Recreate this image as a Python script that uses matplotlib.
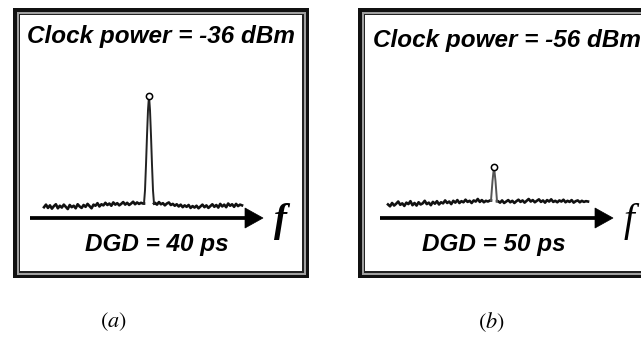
import numpy as np
import matplotlib
matplotlib.use("Agg")
import matplotlib.pyplot as plt
from matplotlib.patches import Rectangle, Polygon

W, H = 641, 349
DPI = 100

# ---- data -------------------------------------------------------------
panel_labels = ["(a)", "(b)"]
clock_power_dbm = [-36, -56]
dgd_ps = [40, 50]

# noise floor of each trace (dBm), left and right of the clock tone
noise_a_left = [-66.6, -65.9, -66.8, -66.1, -67.0, -66.3, -65.8, -66.9, -66.2, -66.7,
                -65.9, -66.5, -67.1, -66.0, -66.6, -66.2, -66.9, -65.8, -66.4, -66.8,
                -66.0, -66.5, -65.7, -66.3, -66.9, -65.9, -66.2, -65.5, -66.4, -65.8,
                -66.1, -65.4, -66.0, -65.6, -66.2, -65.3, -65.9, -65.5, -66.1, -65.7,
                -65.2, -65.9, -65.4, -66.0, -65.6, -65.1, -65.8, -65.3, -65.7, -65.4,
                -65.6]
noise_a_right = [-65.4, -65.9, -65.2, -65.8, -65.5, -66.1, -65.6, -65.3, -66.0, -65.7,
                 -66.2, -65.8, -66.4, -65.9, -66.6, -66.1, -66.5, -66.0, -66.8, -66.3,
                 -66.7, -66.2, -66.9, -66.4, -65.9, -66.6, -66.1, -66.8, -66.3, -65.8,
                 -66.5, -66.0, -66.7, -65.7, -66.4, -65.9, -66.6, -65.6, -66.2, -65.8,
                 -66.5, -65.7, -66.3, -65.9, -66.1]
noise_b_left = [-66.4, -66.9, -66.0, -66.7, -66.2, -65.6, -66.5, -66.1, -66.8, -65.9,
                -66.3, -65.5, -66.6, -66.0, -66.7, -65.8, -66.4, -66.1, -65.4, -66.3,
                -65.9, -66.6, -65.7, -66.2, -65.5, -66.4, -65.8, -66.1, -65.3, -66.0,
                -65.6, -66.3, -65.4, -65.9, -65.2, -66.0, -65.5, -65.8, -65.1, -65.7,
                -65.4, -66.0, -65.3, -65.6, -64.9, -65.7, -65.2, -65.8, -65.4, -65.6,
                -65.3]
noise_b_right = [-65.5, -65.9, -65.3, -66.0, -65.6, -65.2, -65.8, -65.4, -66.0, -65.5,
                 -65.1, -65.7, -65.3, -65.9, -65.4, -64.9, -65.6, -65.2, -65.8, -65.4,
                 -65.0, -65.7, -65.3, -65.9, -65.2, -65.6, -65.0, -65.7, -65.4, -65.8,
                 -65.3, -65.6, -65.1, -65.8, -65.4, -65.7, -65.2, -65.9, -65.5, -65.3,
                 -65.8, -65.4, -65.7, -65.5, -65.6]

# clock tone shape (offset, dBm)
peak_a_offset = [-5, -4, -3, -2, -1, 0, 1, 2, 3, 4, 5]
peak_a_level = [-65.6, -62.0, -55.0, -47.0, -40.0, -36.0, -40.0, -47.0, -55.0, -62.0, -65.6]
peak_b_offset = [-3, -1.5, 0, 1.5, 3]
peak_b_level = [-65.3, -60.0, -56.0, -60.0, -65.5]

# frequency offsets of the traces
span_a = (-105, 93)
span_b = (-106, 94)

# ---- figure -----------------------------------------------------------
fig = plt.figure(figsize=(W / DPI, H / DPI), dpi=DPI)
fig.patch.set_facecolor("white")

# overlay axes in pixel units for the frames, arrows and captions
ov = fig.add_axes([0, 0, 1, 1])
ov.set_xlim(0, W)
ov.set_ylim(H, 0)
ov.axis("off")


def frame(x0, y0, x1, y1):
    ov.add_patch(Rectangle((x0, y0), x1 - x0, y1 - y0, fc="#111111", ec="none", zorder=1))
    ov.add_patch(Rectangle((x0 + 3.5, y0 + 3.5), x1 - x0 - 7, y1 - y0 - 7,
                           fc="#a0a0a0", ec="none", zorder=1))
    ov.add_patch(Rectangle((x0 + 5.5, y0 + 5.5), x1 - x0 - 11, y1 - y0 - 11,
                           fc="#222222", ec="none", zorder=1))
    ov.add_patch(Rectangle((x0 + 6.8, y0 + 6.8), x1 - x0 - 13.6, y1 - y0 - 13.6,
                           fc="white", ec="none", zorder=1))


def arrow(x0, x1, y):
    ov.plot([x0, x1 - 17], [y, y], color="black", lw=2.7, solid_capstyle="butt", zorder=3)
    ov.add_patch(Polygon([(x1 - 18, y - 10), (x1, y), (x1 - 18, y + 10)],
                         closed=True, fc="black", ec="black", lw=0.5, zorder=3))


frame(13, 8, 309, 278)
frame(358, 8, 654, 278)

arrow(30, 263, 218)
arrow(380, 613, 218)

title_kw = dict(fontfamily="Liberation Sans", fontweight="bold", fontstyle="italic",
                fontsize=17.5, ha="center", va="center", color="black", zorder=4)
ov.text(161, 37, f"Clock power = {clock_power_dbm[0]} dBm", **title_kw)
ov.text(507, 40, f"Clock power = {clock_power_dbm[1]} dBm", **title_kw)

dgd_kw = dict(fontfamily="Liberation Sans", fontweight="bold", fontstyle="italic",
              fontsize=17.5, ha="center", va="center", color="black", zorder=4)
ov.text(157, 245, f"DGD = {dgd_ps[0]} ps", **dgd_kw)
ov.text(494, 245, f"DGD = {dgd_ps[1]} ps", **dgd_kw)

ov.text(280, 222, "f", fontfamily="Liberation Serif", fontweight="bold", fontstyle="italic",
        fontsize=28, ha="center", va="center", color="black", zorder=4)
ov.text(629, 222, "f", fontfamily="Liberation Serif", fontstyle="italic",
        fontsize=28, ha="center", va="center", color="black", zorder=4)

plt.rcParams["mathtext.fontset"] = "stix"
ov.text(113, 322, r"$(a)$", fontsize=16, ha="center", va="center", color="black")
ov.text(491, 322, r"$(b)$", fontsize=16, ha="center", va="center", color="black")

# ---- spectra ----------------------------------------------------------
PX_PER_DB = 3.65
Y_LO, Y_HI = -70.0, -33.0


def spectrum_axes(px_left, px_right, px_floor, floor_dbm, span):
    # place an axes so that floor_dbm sits at pixel row px_floor
    y_bottom_px = px_floor + (floor_dbm - Y_LO) * PX_PER_DB
    y_top_px = px_floor - (Y_HI - floor_dbm) * PX_PER_DB
    ax = fig.add_axes([px_left / W, 1 - y_bottom_px / H,
                       (px_right - px_left) / W, (y_bottom_px - y_top_px) / H])
    ax.set_xlim(*span)
    ax.set_ylim(Y_LO, Y_HI)
    ax.axis("off")
    ax.patch.set_alpha(0)
    return ax


def trace(ax, span, left, right, pk_x, pk_y, pk_color):
    fl = np.linspace(span[0], pk_x[0] - 1, len(left))
    fr = np.linspace(pk_x[-1] + 1, span[1], len(right))
    ax.plot(np.concatenate([fl, [pk_x[0]]]), np.concatenate([left, [pk_y[0]]]),
            color="#111111", lw=1.9, clip_on=False)
    ax.plot(np.concatenate([[pk_x[-1]], fr]), np.concatenate([[pk_y[-1]], right]),
            color="#111111", lw=1.9, clip_on=False)
    ax.plot(pk_x, pk_y, color=pk_color, lw=1.4, clip_on=False)
    top = int(np.argmax(pk_y))
    ax.plot([pk_x[top]], [pk_y[top]], marker="o", ms=4.5, mfc="white", mec="black",
            mew=1.1, clip_on=False)


ax_a = spectrum_axes(44, 242, 205, -66.0, span_a)
trace(ax_a, span_a, noise_a_left, noise_a_right, peak_a_offset, peak_a_level, "#222222")

ax_b = spectrum_axes(388, 588, 203, -66.0, span_b)
trace(ax_b, span_b, noise_b_left, noise_b_right, peak_b_offset, peak_b_level, "#555555")

fig.savefig("out.png", dpi=DPI, facecolor="white")
